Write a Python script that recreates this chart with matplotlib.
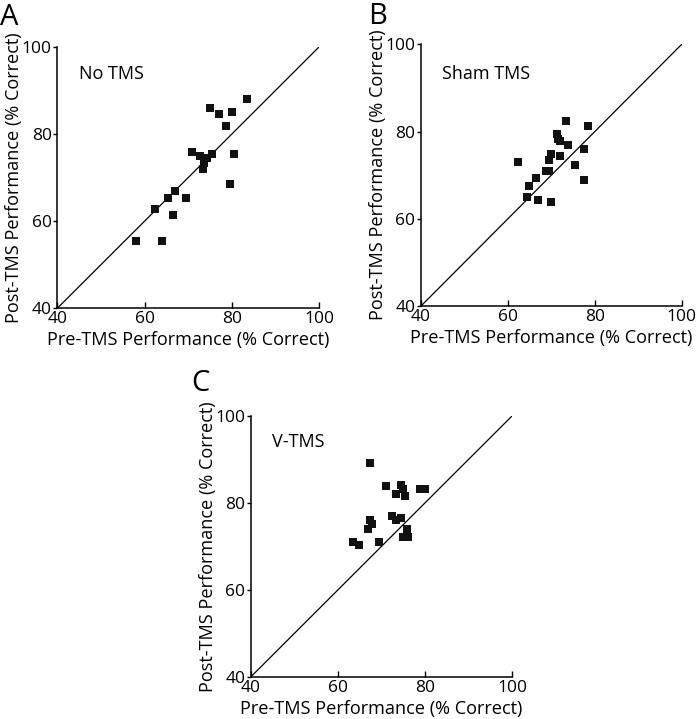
import numpy as np
import matplotlib.pyplot as plt

plt.rcParams['font.family'] = ['Open Sans', 'DejaVu Sans']

# No TMS
a_pre = [58.0, 64.0, 62.4, 66.5, 65.4, 67.0, 69.5, 83.5, 75.0, 77.0,
         80.0, 78.6, 70.8, 72.6, 74.3, 75.5, 73.6, 73.4, 80.5, 79.5]
a_post = [55.4, 55.4, 62.8, 61.3, 65.3, 66.8, 65.3, 87.9, 85.9, 84.5,
          85.0, 81.9, 75.9, 74.9, 74.4, 75.4, 73.3, 72.0, 75.4, 68.4]

# Sham TMS
b_pre = [73.4, 78.4, 71.4, 71.6, 72.0, 73.9, 77.4, 69.9, 71.9, 69.4,
         62.3, 75.4, 68.8, 69.5, 66.4, 64.9, 77.4, 64.4, 66.9, 70.0]
b_post = [82.4, 81.3, 79.4, 78.3, 77.8, 76.8, 75.9, 74.9, 74.3, 73.5,
          72.9, 72.3, 70.9, 70.9, 69.4, 67.4, 68.9, 65.0, 64.3, 63.8]

# V-TMS
c_pre = [67.4, 71.0, 74.4, 75.0, 73.4, 75.5, 78.9, 80.1, 72.5, 73.4,
         74.5, 67.4, 67.9, 67.0, 75.9, 74.9, 76.0, 63.4, 64.9, 69.4]
c_post = [89.1, 84.0, 84.1, 83.1, 82.0, 81.5, 83.1, 83.1, 77.1, 76.1,
          76.6, 76.1, 75.1, 74.1, 74.0, 72.1, 72.1, 71.1, 70.2, 71.1]

ticks = [40, 60, 80, 100]

W, H = 696, 719
fig = plt.figure(figsize=(W / 100, H / 100), dpi=100)

# rect, data, label, label pos (axes frac), panel letter + pixel pos
panels = [
    ([0.0823, 0.5712, 0.3764, 0.3638], a_pre, a_post, 'No TMS', (0.083, 0.876), 'A', (0, 25)),
    ([0.6049, 0.5744, 0.3746, 0.3640], b_pre, b_post, 'Sham TMS', (0.080, 0.867), 'B', (368, 24)),
    ([0.3606, 0.0588, 0.3750, 0.3626], c_pre, c_post, 'V-TMS', (0.080, 0.881), 'C', (191, 391)),
]

for rect, x, y, name, npos, letter, lpos in panels:
    ax = fig.add_axes(rect)
    ax.plot([40, 100], [40, 100], color='black', lw=0.9)
    ax.plot(x, y, 's', color='#111111', markersize=5.6, markeredgewidth=0)
    ax.set_xlim(40, 100)
    ax.set_ylim(40, 100)
    ax.set_xticks(ticks)
    ax.set_yticks(ticks)
    ax.spines['top'].set_visible(False)
    ax.spines['right'].set_visible(False)
    ax.spines['left'].set_linewidth(1.1)
    ax.spines['bottom'].set_linewidth(1.1)
    ax.tick_params(axis='x', direction='in', length=4, width=1, pad=2, labelsize=12.5)
    ax.tick_params(axis='y', direction='out', length=3, width=1, pad=1, labelsize=12.5)
    ax.set_xlabel('Pre-TMS Performance (% Correct)', fontsize=13.1, labelpad=3)
    ax.set_ylabel('Post-TMS Performance (% Correct)', fontsize=13.1, labelpad=-1)
    ax.text(npos[0], npos[1], name, transform=ax.transAxes, fontsize=13, va='baseline')
    fig.text(lpos[0] / W, 1 - lpos[1] / H, letter, fontsize=21, va='baseline', ha='left')

fig.savefig('out.png', dpi=100)
